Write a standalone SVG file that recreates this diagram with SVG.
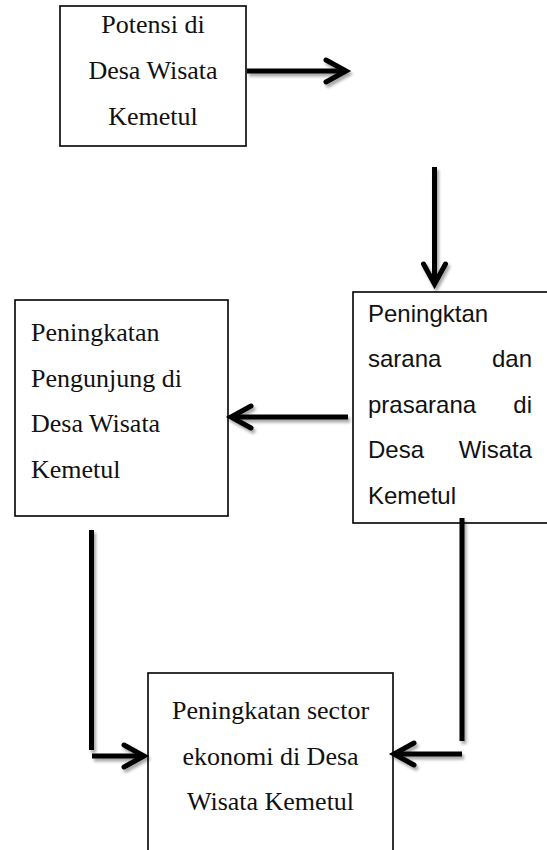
<svg xmlns="http://www.w3.org/2000/svg" width="547" height="850" viewBox="0 0 547 850">
<style>
.box{fill:#fff;stroke:#000;stroke-width:1.6}
.serif{font-family:"Liberation Serif","Times New Roman",serif;font-size:26px;fill:#111}
.sans{font-family:"Liberation Sans",Arial,sans-serif;font-size:24px;fill:#111}
.conn{stroke:#000;stroke-width:5;fill:none}
.head{marker-end:url(#chev)}
</style>
<defs>
<marker id="chev" markerUnits="userSpaceOnUse" viewBox="-26 -15 30 30" markerWidth="30" markerHeight="30" refX="-1" refY="0" orient="auto" overflow="visible">
<path d="M-21,-11 L-1,0 L-21,11" fill="none" stroke="#000" stroke-width="5" stroke-linejoin="miter" stroke-linecap="round"/>
</marker>
<filter id="sh" x="-20%" y="-20%" width="140%" height="140%">
<feDropShadow dx="2" dy="3" stdDeviation="1.8" flood-color="#000" flood-opacity="0.35"/>
</filter>
</defs>
<rect width="547" height="850" fill="#fff"/>
<g id="n1">
<rect class="box" x="60" y="6" width="186" height="140"/>
<text class="serif" text-anchor="middle" x="153" y="33">Potensi di</text>
<text class="serif" text-anchor="middle" x="153" y="79">Desa Wisata</text>
<text class="serif" text-anchor="middle" x="153" y="125">Kemetul</text>
</g>
<g id="n2">
<rect class="box" x="353" y="292" width="200" height="231"/>
<text class="sans" x="368" y="322">Peningktan</text>
<text class="sans" x="368" y="367">sarana</text>
<text class="sans" x="532" y="367" text-anchor="end">dan</text>
<text class="sans" x="368" y="413">prasarana</text>
<text class="sans" x="532" y="413" text-anchor="end">di</text>
<text class="sans" x="368" y="458">Desa</text>
<text class="sans" x="532" y="458" text-anchor="end">Wisata</text>
<text class="sans" x="368" y="504">Kemetul</text>
</g>
<g id="n3">
<rect class="box" x="15" y="300" width="213" height="216"/>
<text class="serif" x="31" y="341">Peningkatan</text>
<text class="serif" x="31" y="387">Pengunjung di</text>
<text class="serif" x="31" y="432">Desa Wisata</text>
<text class="serif" x="31" y="478">Kemetul</text>
</g>
<g id="n4">
<rect class="box" x="148" y="673" width="245" height="200"/>
<text class="serif" text-anchor="middle" x="270.5" y="719">Peningkatan sector</text>
<text class="serif" text-anchor="middle" x="270.5" y="765">ekonomi di Desa</text>
<text class="serif" text-anchor="middle" x="270.5" y="810">Wisata Kemetul</text>
</g>
<g id="connectors" filter="url(#sh)">
<line class="conn head" x1="247" y1="71" x2="346" y2="71"/>
<line class="conn head" x1="434.5" y1="167" x2="434.5" y2="284"/>
<line class="conn head" x1="348" y1="417" x2="231" y2="417"/>
<line class="conn" x1="91.5" y1="530" x2="91.5" y2="750"/>
<line class="conn head" x1="92" y1="756" x2="144" y2="756"/>
<line class="conn" x1="462" y1="518" x2="462" y2="741"/>
<line class="conn head" x1="462" y1="754" x2="394" y2="754"/>
</g>
</svg>
